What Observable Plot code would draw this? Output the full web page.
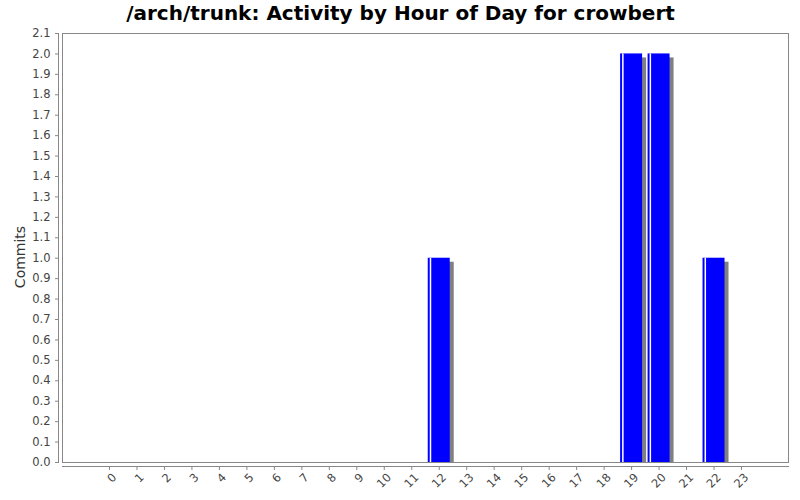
<!DOCTYPE html>
<html>
<head>
<meta charset="utf-8">
<script src="https://cdn.jsdelivr.net/npm/d3@7"></script>
<script src="https://cdn.jsdelivr.net/npm/@observablehq/plot@0.6"></script>
<style>
  body { margin: 0; background: #fff; }
  #chart svg { display: block; }
</style>
</head>
<body>
<div id="chart"></div>
<script>
const title = "/arch/trunk: Activity by Hour of Day for crowbert";
const yLabel = "Commits";
const hours = ["0","1","2","3","4","5","6","7","8","9","10","11","12","13","14","15","16","17","18","19","20","21","22","23"];
const commits = [0,0,0,0,0,0,0,0,0,0,0,0,1,0,0,0,0,0,0,2,2,0,1,0];
const yTicks = [0,0.1,0.2,0.3,0.4,0.5,0.6,0.7,0.8,0.9,1.0,1.1,1.2,1.3,1.4,1.5,1.6,1.7,1.8,1.9,2.0,2.1];

const data = hours.map((h, i) => ({hour: h, commits: commits[i]})).filter(d => d.commits > 0);

const W = 800, H = 500;
const mL = 62, mR = 12, mT = 33, mB = 38;
const paddingInner = 0.2, paddingOuter = 1.31;
const step = (W - mL - mR) / (hours.length - paddingInner + 2 * paddingOuter);
const bw = step * (1 - paddingInner);
const axisColor = "#888";
const font = "DejaVu Sans, sans-serif";

const chart = Plot.plot({
  width: W,
  height: H,
  marginLeft: mL,
  marginRight: mR,
  marginTop: mT,
  marginBottom: mB,
  style: {fontFamily: font, fontSize: "11.5px", color: "#444", background: "#fff"},
  x: {type: "band", domain: hours, paddingInner, paddingOuter, round: false},
  y: {domain: [0, 2.1], nice: false},
  marks: [
    Plot.frame({stroke: axisColor}),
    Plot.frame({anchor: "left", stroke: axisColor, dx: -4}),
    Plot.frame({anchor: "bottom", stroke: axisColor, dy: 4}),
    Plot.axisY({ticks: yTicks, tickFormat: d3.format(".1f"), tickSize: 3, dx: -4, tickPadding: 5, stroke: axisColor, fill: "#444", label: null}),
    Plot.text([yLabel], {frameAnchor: "left", rotate: -90, textAnchor: "middle", dx: -42, dy: 9, fontSize: 14, fill: "#333", fontFamily: font}),
    Plot.axisX({tickSize: 4, dy: 4, tickFormat: () => "", stroke: axisColor, label: null}),
    Plot.axisX({tickSize: 0, dx: 5, dy: 8, tickRotate: -45, tickPadding: 5, fill: "#444", label: null}),
    Plot.barY(data, {x: "hour", y: "commits", fill: "#808080", dx: 4, dy: 4, clip: true}),
    Plot.barY(data, {x: "hour", y: "commits", fill: "#0000ff"}),
    Plot.barY(data, {x: "hour", y: "commits", fill: "#ffffff", insetLeft: 2, insetRight: bw - 3.5}),
    Plot.text([title], {frameAnchor: "top", dx: -25, dy: -28, fontSize: 20, fontWeight: "bold", fill: "#000", fontFamily: font})
  ]
});
document.getElementById("chart").appendChild(chart);
</script>
</body>
</html>
